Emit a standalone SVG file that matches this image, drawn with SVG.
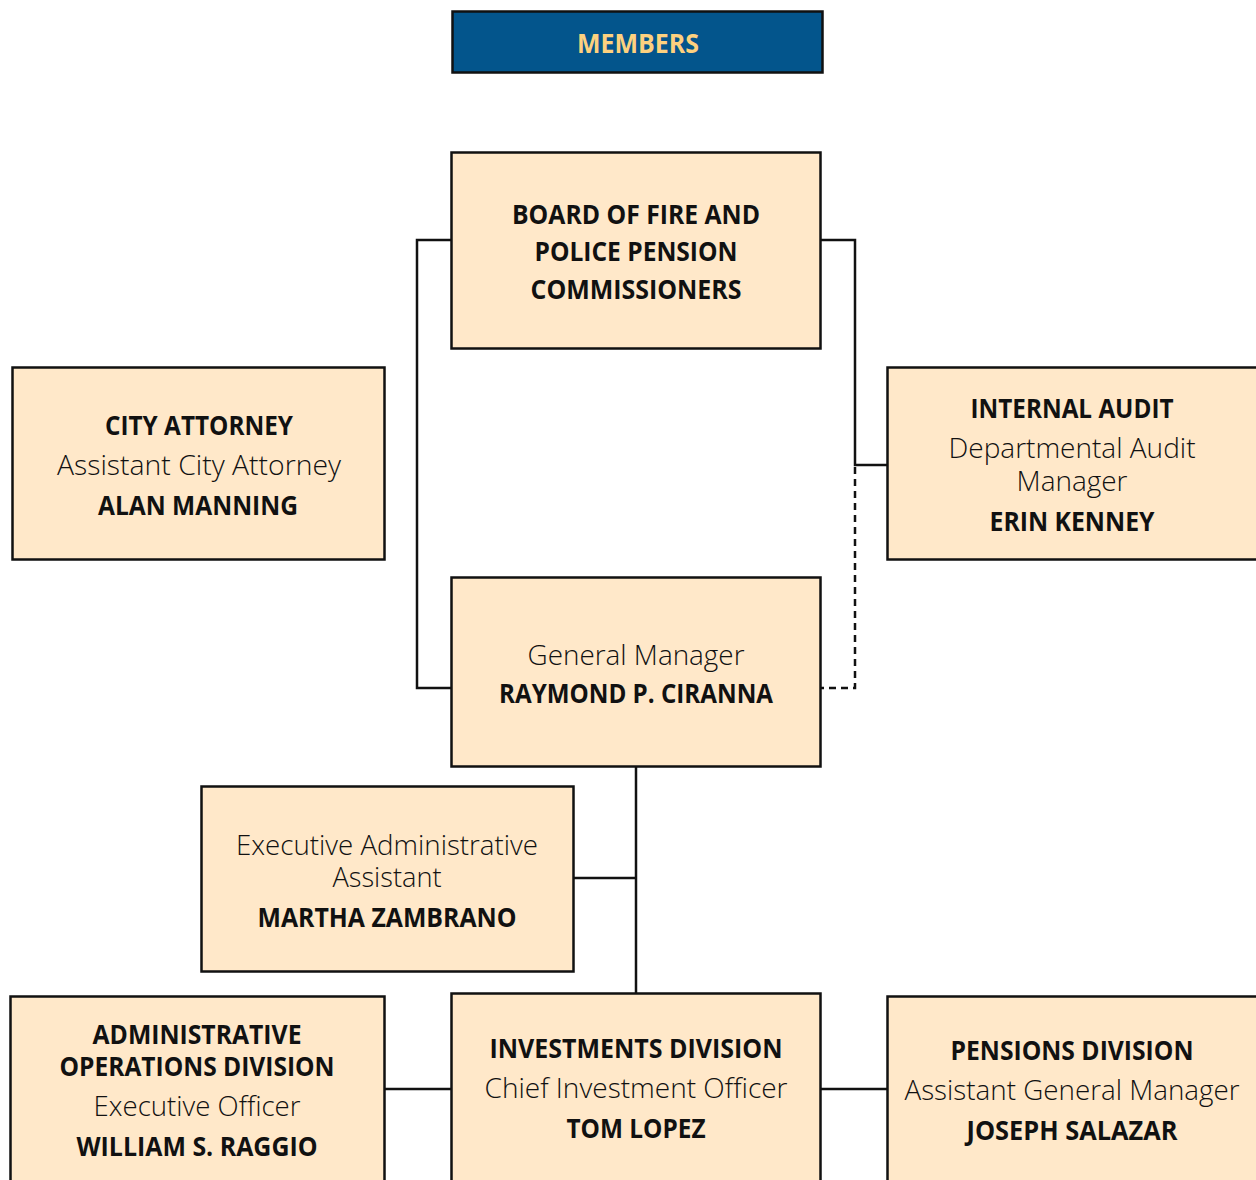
<svg xmlns="http://www.w3.org/2000/svg" width="1256" height="1180" viewBox="0 0 1256 1180">
<style>
.box{fill:#FFE8C9;stroke:#111;stroke-width:2.5}
.b{font-family:"Open Sans","Noto Sans","Liberation Sans",sans-serif;font-weight:700;font-size:27px;fill:#111;text-anchor:middle}
.l{font-family:"Open Sans","Noto Sans","Liberation Sans",sans-serif;font-weight:300;font-size:27px;fill:#111;text-anchor:middle}
.c{fill:none;stroke:#111;stroke-width:2.5}
.d{fill:none;stroke:#111;stroke-width:2.5;stroke-dasharray:7,5}
</style>
<defs>
<linearGradient id="ca" x1="0" y1="0" x2="1" y2="0">
<stop offset="0" stop-color="#114f8c"/>
<stop offset="1" stop-color="#cc2535"/>
</linearGradient>
</defs>
<g id="connectors">
<polyline class="c" points="451,240 417,240 417,688 451,688"/>
<line x1="385" y1="464" x2="416" y2="464" stroke="url(#ca)" stroke-width="3"/>
<polyline class="c" points="821,240 855,240 855,465 887,465"/>
<polyline class="d" points="855,467 855,688 821,688"/>
<line class="c" x1="636" y1="766" x2="636" y2="993"/>
<line class="c" x1="573" y1="878" x2="636" y2="878"/>
<line class="c" x1="385" y1="1089" x2="451" y2="1089"/>
<line class="c" x1="821" y1="1089" x2="887" y2="1089"/>
</g>
<g id="members">
<rect x="452.5" y="11.5" width="370" height="61" fill="#03558C" stroke="#111" stroke-width="2.5"/>
<text x="638" y="53" class="b" style="fill:#FDD17F" textLength="122" lengthAdjust="spacingAndGlyphs">MEMBERS</text>
</g>
<g id="board">
<rect class="box" x="451.5" y="152.5" width="369" height="196"/>
<text x="636" y="224" class="b" textLength="248" lengthAdjust="spacingAndGlyphs">BOARD OF FIRE AND</text>
<text x="636" y="261" class="b" textLength="203" lengthAdjust="spacingAndGlyphs">POLICE PENSION</text>
<text x="636" y="299" class="b" textLength="211" lengthAdjust="spacingAndGlyphs">COMMISSIONERS</text>
</g>
<g id="city-attorney">
<rect class="box" x="12.5" y="367.5" width="372" height="192"/>
<text x="199" y="435" class="b" textLength="188" lengthAdjust="spacingAndGlyphs">CITY ATTORNEY</text>
<text x="199" y="475" class="l" textLength="284" lengthAdjust="spacingAndGlyphs">Assistant City Attorney</text>
<text x="198" y="515" class="b" textLength="200" lengthAdjust="spacingAndGlyphs">ALAN MANNING</text>
</g>
<g id="internal-audit">
<rect class="box" x="887.5" y="367.5" width="372" height="192"/>
<text x="1072" y="418" class="b" textLength="203" lengthAdjust="spacingAndGlyphs">INTERNAL AUDIT</text>
<text x="1072" y="458" class="l" textLength="247" lengthAdjust="spacingAndGlyphs">Departmental Audit</text>
<text x="1072" y="491" class="l" textLength="111" lengthAdjust="spacingAndGlyphs">Manager</text>
<text x="1072" y="531" class="b" textLength="165" lengthAdjust="spacingAndGlyphs">ERIN KENNEY</text>
</g>
<g id="general-manager">
<rect class="box" x="451.5" y="577.5" width="369" height="189"/>
<text x="636" y="665" class="l" textLength="217" lengthAdjust="spacingAndGlyphs">General Manager</text>
<text x="636" y="703" class="b" textLength="274" lengthAdjust="spacingAndGlyphs">RAYMOND P. CIRANNA</text>
</g>
<g id="exec-admin">
<rect class="box" x="201.5" y="786.5" width="372" height="185"/>
<text x="387" y="855" class="l" textLength="302" lengthAdjust="spacingAndGlyphs">Executive Administrative</text>
<text x="387" y="887" class="l" textLength="109" lengthAdjust="spacingAndGlyphs">Assistant</text>
<text x="387" y="927" class="b" textLength="259" lengthAdjust="spacingAndGlyphs">MARTHA ZAMBRANO</text>
</g>
<g id="admin-ops">
<rect class="box" x="10.5" y="996.5" width="374" height="200"/>
<text x="197" y="1044" class="b" textLength="209" lengthAdjust="spacingAndGlyphs">ADMINISTRATIVE</text>
<text x="197" y="1076" class="b" textLength="275" lengthAdjust="spacingAndGlyphs">OPERATIONS DIVISION</text>
<text x="197" y="1116" class="l" textLength="207" lengthAdjust="spacingAndGlyphs">Executive Officer</text>
<text x="197" y="1156" class="b" textLength="241" lengthAdjust="spacingAndGlyphs">WILLIAM S. RAGGIO</text>
</g>
<g id="investments">
<rect class="box" x="451.5" y="993.5" width="369" height="200"/>
<text x="636" y="1058" class="b" textLength="293" lengthAdjust="spacingAndGlyphs">INVESTMENTS DIVISION</text>
<text x="636" y="1098" class="l" textLength="303" lengthAdjust="spacingAndGlyphs">Chief Investment Officer</text>
<text x="636" y="1138" class="b" textLength="139" lengthAdjust="spacingAndGlyphs">TOM LOPEZ</text>
</g>
<g id="pensions">
<rect class="box" x="887.5" y="996.5" width="372" height="200"/>
<text x="1072" y="1060" class="b" textLength="243" lengthAdjust="spacingAndGlyphs">PENSIONS DIVISION</text>
<text x="1072" y="1100" class="l" textLength="335" lengthAdjust="spacingAndGlyphs">Assistant General Manager</text>
<text x="1072" y="1140" class="b" textLength="211" lengthAdjust="spacingAndGlyphs">JOSEPH SALAZAR</text>
</g>
</svg>
